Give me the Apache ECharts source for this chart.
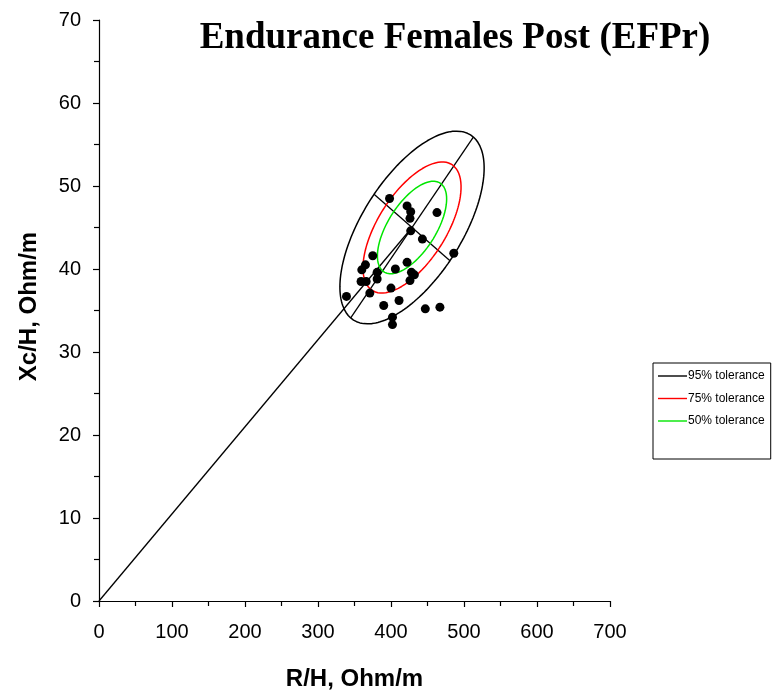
<!DOCTYPE html>
<html>
<head>
<meta charset="utf-8">
<script src="https://cdn.jsdelivr.net/npm/echarts@6/dist/echarts.min.js"></script>
<style>
  html, body { margin: 0; padding: 0; background: #fff; }
  #chart { width: 777px; height: 696px; }
</style>
</head>
<body>
<div id="chart"></div>
<script>
// Resistance / reactance (normalised by height) for each subject
const chartTitle = 'Endurance Females Post (EFPr)';
const xAxisName = 'R/H, Ohm/m';
const yAxisName = 'Xc/H, Ohm/m';

const resistanceH = [398, 422, 427, 426, 463, 427, 443, 486, 375, 365, 360, 422, 406, 381, 428,
                     432, 426, 381, 359, 366, 400, 371, 339, 411, 390, 447, 467, 402, 402];
const reactanceH  = [48.5, 47.6, 46.9, 46.1, 46.8, 44.6, 43.6, 41.9, 41.6, 40.5, 39.9, 40.8, 40.0, 39.6, 39.6,
                     39.3, 38.6, 38.8, 38.5, 38.5, 37.7, 37.1, 36.7, 36.2, 35.6, 35.2, 35.4, 34.2, 33.3];

// Tolerance ellipses: common centre, semi-axes of the 95% ellipse, relative size of each level
const ellipseCenter = [428.8, 45.0];
const majorSemiAxis = [84.0, 10.9];
const minorSemiAxis = [52.0, -4.0];
const toleranceNames = ['95% tolerance', '75% tolerance', '50% tolerance'];
const toleranceScale = [1, 0.68, 0.48];

const xMin = 0, xMax = 700, xStep = 100;
const yMin = 0, yMax = 70, yStep = 10;

const lineColors = ['#000000', '#ff0000', '#00e600'];

function ellipseOutline(scale) {
  const pts = [];
  const n = 180;
  for (let i = 0; i <= n; i++) {
    const t = (i / n) * Math.PI * 2;
    const c = Math.cos(t), s = Math.sin(t);
    pts.push([
      ellipseCenter[0] + scale * (majorSemiAxis[0] * c + minorSemiAxis[0] * s),
      ellipseCenter[1] + scale * (majorSemiAxis[1] * c + minorSemiAxis[1] * s)
    ]);
  }
  return pts;
}

const ellipseSeries = toleranceNames.map((name, i) => ({
  name: name,
  type: 'line',
  data: ellipseOutline(toleranceScale[i]),
  symbol: 'none',
  smooth: false,
  silent: true,
  lineStyle: { color: lineColors[i], width: 1.5 },
  itemStyle: { color: lineColors[i] },
  z: 3
}));

const axisSegment = (a, b) => ({
  type: 'line',
  data: [a, b],
  symbol: 'none',
  silent: true,
  lineStyle: { color: '#000', width: 1.3 },
  z: 2
});

const majorLine = axisSegment(
  [ellipseCenter[0] - majorSemiAxis[0], ellipseCenter[1] - majorSemiAxis[1]],
  [ellipseCenter[0] + majorSemiAxis[0], ellipseCenter[1] + majorSemiAxis[1]]
);
const minorLine = axisSegment(
  [ellipseCenter[0] - minorSemiAxis[0], ellipseCenter[1] - minorSemiAxis[1]],
  [ellipseCenter[0] + minorSemiAxis[0], ellipseCenter[1] + minorSemiAxis[1]]
);
const meanVectorLine = axisSegment([0, 0], ellipseCenter);

const points = resistanceH.map((r, i) => [r, reactanceH[i]]);

const chart = echarts.init(document.getElementById('chart'), null, { renderer: 'canvas' });

const axisCommon = {
  type: 'value',
  axisLine: { show: true, onZero: false, lineStyle: { color: '#000', width: 1.2 } },
  axisTick: { show: true, inside: false, length: 6, lineStyle: { color: '#000', width: 1.2 } },
  minorTick: { show: true, splitNumber: 2, length: 5, lineStyle: { color: '#000', width: 1.2 } },
  splitLine: { show: false },
  axisLabel: { color: '#000', fontFamily: 'Liberation Sans, Arial, sans-serif', fontSize: 20 },
  nameTextStyle: { color: '#000', fontFamily: 'Liberation Sans, Arial, sans-serif', fontSize: 24, fontWeight: 'bold' }
};

chart.setOption({
  animation: false,
  backgroundColor: '#fff',
  title: {
    text: chartTitle,
    left: 450,
    top: 15,
    textAlign: 'center',
    textStyle: { fontFamily: 'Liberation Serif, Times New Roman, serif', fontSize: 37, fontWeight: 'bold', color: '#000' }
  },
  legend: {
    data: toleranceNames,
    orient: 'vertical',
    left: 653,
    top: 363,
    padding: [7, 6, 32, 5],
    icon: 'path://M0,0 L29,0 L29,1.4 L0,1.4 Z',
    symbolKeepAspect: true,
    itemWidth: 29,
    itemHeight: 14,
    itemGap: 10.5,
    borderColor: '#000',
    borderWidth: 1,
    selectedMode: false,
    textStyle: { fontFamily: 'Liberation Sans, Arial, sans-serif', fontSize: 12, color: '#000', padding: [0, 0, 0, -4] }
  },
  grid: { left: 99, right: 167, top: 20, bottom: 89, containLabel: false },
  xAxis: Object.assign({}, axisCommon, {
    min: xMin, max: xMax, interval: xStep,
    name: xAxisName,
    nameLocation: 'middle',
    nameGap: 66,
    axisLabel: Object.assign({}, axisCommon.axisLabel, { margin: 21 })
  }),
  yAxis: Object.assign({}, axisCommon, {
    min: yMin, max: yMax, interval: yStep,
    name: yAxisName,
    nameLocation: 'middle',
    nameGap: 58,
    nameTextStyle: Object.assign({}, axisCommon.nameTextStyle, { padding: [0, 0, 0, 8] }),
    axisLabel: Object.assign({}, axisCommon.axisLabel, { margin: 18 })
  }),
  series: [
    meanVectorLine,
    majorLine,
    minorLine,
    ...ellipseSeries,
    {
      name: 'Subjects',
      type: 'scatter',
      data: points,
      symbol: 'circle',
      symbolSize: 9,
      itemStyle: { color: '#000', opacity: 1 },
      z: 5
    }
  ]
});
</script>
</body>
</html>
